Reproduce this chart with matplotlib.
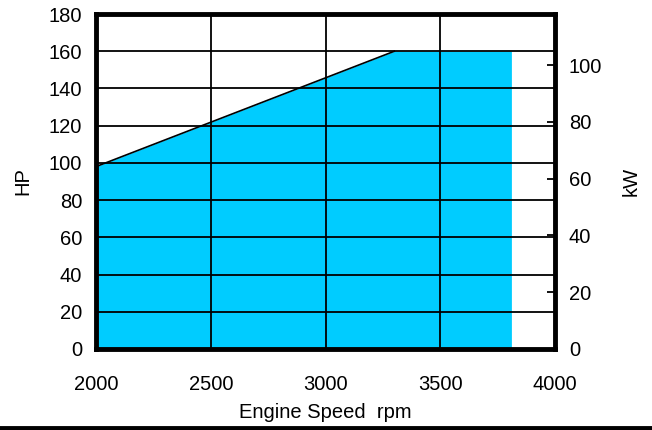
import matplotlib
matplotlib.use('Agg')
import matplotlib.pyplot as plt
from matplotlib.lines import Line2D

plt.rcParams['font.family'] = ['Liberation Sans', 'DejaVu Sans']

# power curve (HP) vs engine speed
rpm = [2000, 3300, 3810, 3810]
hp = [98, 160, 160, 0]
x_ticks = [2000, 2500, 3000, 3500, 4000]
hp_ticks = [0, 20, 40, 60, 80, 100, 120, 140, 160, 180]
kw_ticks = [0, 20, 40, 60, 80, 100]
kw_max = 118

fig = plt.figure(figsize=(6.52, 4.30), dpi=100)
ax = fig.add_axes([96 / 652, 81 / 430, 459 / 652, 335 / 430])

ax.fill_between(rpm, hp, 0, color='#00CCFF', zorder=1, linewidth=0)
ax.plot(rpm[:2], hp[:2], color='black', linewidth=1.2, zorder=3)

ax.set_xlim(2000, 4000)
ax.set_ylim(0, 180)
ax.set_xticks(x_ticks)
ax.set_yticks(hp_ticks)
ax.grid(True, color='black', linewidth=1.3, zorder=2)
ax.set_axisbelow(False)
ax.tick_params(axis='both', direction='in', length=0, labelsize=14.5, pad=10)
ax.tick_params(axis='x', pad=19)
for s in ax.spines.values():
    s.set_linewidth(3.5)
    s.set_zorder(5)

ax.set_ylabel('HP', fontsize=14.5, labelpad=12)
fig.text(325 / 652, 1 - 413 / 430, 'Engine Speed  rpm', fontsize=14.5,
         ha='center', va='center')

ax2 = ax.twinx()
ax2.set_ylim(0, kw_max)
ax2.set_yticks(kw_ticks)
ax2.tick_params(axis='y', direction='in', length=6, width=1.3, labelsize=14.5, pad=10)
for s in ax2.spines.values():
    s.set_visible(False)
ax2.set_ylabel('kW', fontsize=14.5, labelpad=14)

fig.add_artist(Line2D([0, 1], [2 / 430, 2 / 430], color='black', linewidth=3.5,
                      transform=fig.transFigure))

plt.savefig('out.png', dpi=100)
plt.close()
